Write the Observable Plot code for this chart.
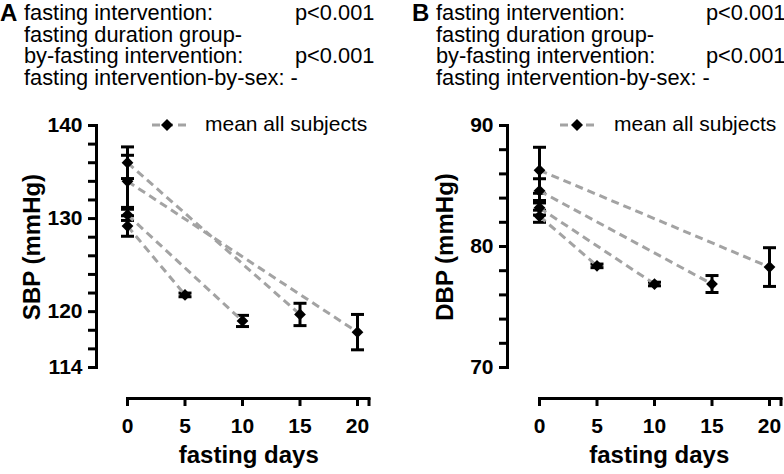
<!DOCTYPE html>
<html><head><meta charset="utf-8">
<script src="https://cdn.jsdelivr.net/npm/d3@7"></script>
<script src="https://cdn.jsdelivr.net/npm/@observablehq/plot@0.6"></script>
<style>
body{margin:0;background:#fff;}
#root{position:relative;width:784px;height:474px;overflow:hidden;font-family:"Liberation Sans",Arial,Helvetica,sans-serif;color:#000;}
.hdr{position:absolute;font-size:21.8px;line-height:21.7px;white-space:pre;}
.letter{position:absolute;font-size:24px;font-weight:bold;line-height:24px;}
.panel{position:absolute;top:100px;}
.legend{position:absolute;font-size:21px;line-height:21px;white-space:nowrap;}
</style></head><body><div id="root"></div>
<script>
// ---- data ----
const durations = [5, 10, 15, 20];            // fasting duration groups (days)
const baselineDay = 0;
const sbpBase    = [129.2, 130.4, 136.0, 134.0];
const sbpBaseSem = [1.1, 0.6, 1.7, 2.8];
const sbpEnd     = [121.8, 119.0, 119.7, 117.8];
const sbpEndSem  = [0.2, 0.6, 1.2, 1.9];
const dbpBase    = [82.5, 83.2, 84.6, 86.3];
const dbpBaseSem = [0.5, 0.6, 1.0, 1.9];
const dbpEnd     = [78.4, 76.9, 76.9, 78.3];
const dbpEndSem  = [0.15, 0.15, 0.7, 1.6];
const xTicks = [0, 5, 10, 15, 20, 21];
const xTickLabels = ["0", "5", "10", "15", "20", ""];
const sbpMajor = [114, 120, 130, 140];
const sbpMinor = [116, 118, 122, 124, 126, 128, 132, 134, 136, 138];
const dbpMajor = [70, 80, 90];
const dbpMinor = [72, 74, 76, 78, 82, 84, 86, 88];
const headerLines = ["fasting intervention:", "fasting duration group-", "by-fasting intervention:", "fasting intervention-by-sex: -"];
const headerP = ["p<0.001", "", "p<0.001", ""];
const panelLetters = ["A", "B"];
const yLabels = ["SBP (mmHg)", "DBP (mmHg)"];
const xLabel = "fasting days";
const legendLabel = "mean all subjects";

const GRAY = "#a3a3a3";
const root = document.getElementById("root");

const capSymbol = {draw(ctx) { ctx.moveTo(-6.5, 0); ctx.lineTo(6.5, 0); }};

function header(left, letter, pLeft) {
  const l = document.createElement("div");
  l.className = "letter"; l.textContent = letter;
  l.style.left = left + "px"; l.style.top = "1px";
  root.appendChild(l);
  const d = document.createElement("div");
  d.className = "hdr"; d.textContent = headerLines.join("\n");
  d.style.left = (left + 24) + "px"; d.style.top = "2px";
  root.appendChild(d);
  const p = document.createElement("div");
  p.className = "hdr"; p.textContent = headerP.join("\n");
  p.style.left = pLeft + "px"; p.style.top = "2px";
  root.appendChild(p);
}

function legend(lineLeft, diamondX, textLeft) {
  const w = textLeft - lineLeft;
  const s = document.createElementNS("http://www.w3.org/2000/svg", "svg");
  s.setAttribute("width", w); s.setAttribute("height", 16);
  s.style.position = "absolute"; s.style.left = lineLeft + "px"; s.style.top = "117px";
  const dx = diamondX - lineLeft;
  s.innerHTML = `<line x1="0" x2="${w - 18}" y1="8" y2="8" stroke="${GRAY}" stroke-width="3" stroke-dasharray="8,5"/>` +
    `<path d="M${dx},2 L${dx + 6},8 L${dx},14 L${dx - 6},8Z" fill="#000"/>`;
  root.appendChild(s);
  const t = document.createElement("div");
  t.className = "legend"; t.textContent = legendLabel;
  t.style.left = textLeft + "px"; t.style.top = "113px";
  root.appendChild(t);
}

function panel({left, base, baseSem, end, endSem, yDomain, major, minor, yLabel, marginLeft, marginRight, insetLeft, yLabelDx, xLabelDx}) {
  const baseline = durations.map((g, i) => ({day: baselineDay, value: base[i], sem: baseSem[i]}));
  const final = durations.map((g, i) => ({day: g, value: end[i], sem: endSem[i]}));
  const links = durations.map((g, i) => ({x1: baselineDay, y1: base[i], x2: g, y2: end[i]}));
  const points = baseline.concat(final);
  const caps = points.flatMap(d => [{day: d.day, y: d.value - d.sem}, {day: d.day, y: d.value + d.sem}]);
  const font = "'Liberation Sans', Arial, Helvetica, sans-serif";
  const svg = Plot.plot({
    width: 392, height: 374,
    marginLeft, marginRight, marginTop: 25, marginBottom: 76,
    x: {domain: [0, 21], insetLeft},
    y: {domain: yDomain, insetBottom: 31},
    style: {fontFamily: font, color: "#000", background: "transparent", overflow: "visible"},
    marks: [
      Plot.frame({anchor: "left", insetBottom: 31, strokeWidth: 3, strokeLinecap: "square"}),
      Plot.frame({anchor: "bottom", insetLeft, strokeWidth: 3, strokeLinecap: "square"}),
      Plot.axisY({ticks: minor, tickSize: 8, tickFormat: () => "", strokeWidth: 3, label: null}),
      Plot.axisY({ticks: major, tickSize: 8, tickPadding: 6, fontSize: 21, fontWeight: "bold", strokeWidth: 3, label: null, tickFormat: d => String(d)}),
      Plot.axisX({ticks: xTicks, tickSize: 8, tickPadding: 12, fontSize: 21, fontWeight: "bold", strokeWidth: 3, label: null,
        tickFormat: d => xTickLabels[xTicks.indexOf(d)]}),
      Plot.text([yLabel], {frameAnchor: "left", textAnchor: "middle", lineAnchor: "middle", rotate: -90, dx: yLabelDx, dy: -15, fontSize: 24, fontWeight: "bold"}),
      Plot.text([xLabel], {frameAnchor: "bottom", textAnchor: "middle", lineAnchor: "middle", dx: xLabelDx, dy: 57, fontSize: 24, fontWeight: "bold"}),
      Plot.ruleX(points, {x: "day", y1: d => d.value - d.sem, y2: d => d.value + d.sem, stroke: "#000", strokeWidth: 3}),
      Plot.dot(caps, {x: "day", y: "y", symbol: capSymbol, stroke: "#000", fill: "none", strokeWidth: 3}),
      Plot.link(links, {x1: "x1", y1: "y1", x2: "x2", y2: "y2", stroke: GRAY, strokeWidth: 3, strokeDasharray: "8,5"}),
      Plot.dot(points, {x: "day", y: "value", symbol: "diamond2", r: 5.3, fill: "#000", stroke: "none"})
    ]
  });
  const wrap = document.createElement("div");
  wrap.className = "panel"; wrap.style.left = left + "px";
  wrap.appendChild(svg);
  root.appendChild(wrap);
}

header(0, panelLetters[0], 295);
header(412, panelLetters[1], 706);
panel({left: 0, base: sbpBase, baseSem: sbpBaseSem, end: sbpEnd, endSem: sbpEndSem, yDomain: [114, 140],
  major: sbpMajor, minor: sbpMinor, yLabel: yLabels[0], marginLeft: 96, marginRight: 23.5, insetLeft: 31, yLabelDx: -64, xLabelDx: 16});
panel({left: 392, base: dbpBase, baseSem: dbpBaseSem, end: dbpEnd, endSem: dbpEndSem, yDomain: [70, 90],
  major: dbpMajor, minor: dbpMinor, yLabel: yLabels[1], marginLeft: 115, marginRight: 3.5, insetLeft: 32, yLabelDx: -62.5, xLabelDx: 15});
legend(152, 167, 205);
legend(560, 577, 614);
</script>
</body></html>
